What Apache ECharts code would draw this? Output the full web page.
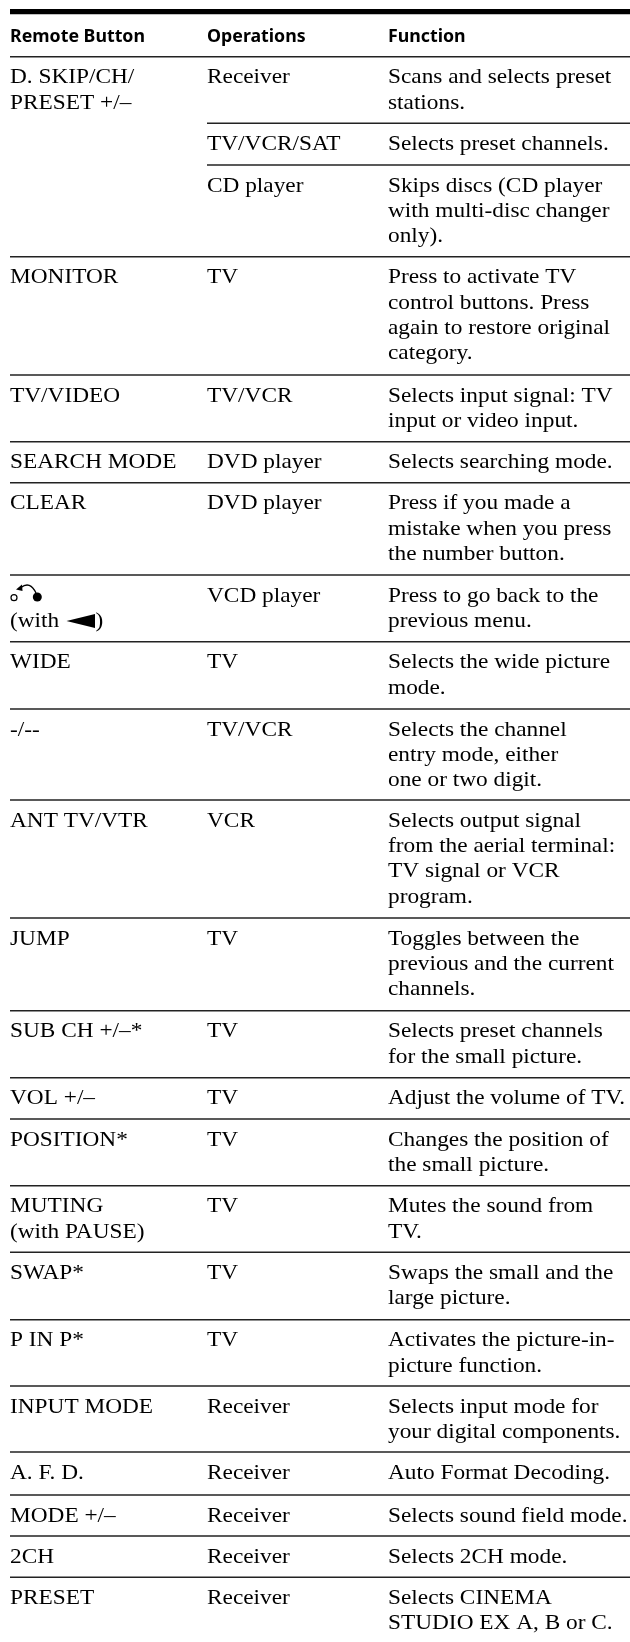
<!DOCTYPE html>
<html>
<head>
<meta charset="utf-8">
<style>html,body{margin:0;padding:0;background:#fff}#main{width:630px;height:1642px}</style>
<script src="https://cdn.jsdelivr.net/npm/echarts@6/dist/echarts.min.js"></script>
</head>
<body>
<div id="main"></div>
<script>
// table text, one entry per row, \n = line break
var headers = ['Remote Button', 'Operations', 'Function'];
var rowButton = ['D. SKIP/CH/\nPRESET +/\u2013', '', '', 'MONITOR', 'TV/VIDEO', 'SEARCH MODE', 'CLEAR', '\n(with', 'WIDE', '-/--',
    'ANT TV/VTR', 'JUMP', 'SUB CH +/\u2013*', 'VOL +/\u2013', 'POSITION*', 'MUTING\n(with PAUSE)', 'SWAP*', 'P IN P*',
    'INPUT MODE', 'A. F. D.', 'MODE +/\u2013', '2CH', 'PRESET'];
var rowOperation = ['Receiver', 'TV/VCR/SAT', 'CD player', 'TV', 'TV/VCR', 'DVD player', 'DVD player', 'VCD player', 'TV', 'TV/VCR',
    'VCR', 'TV', 'TV', 'TV', 'TV', 'TV', 'TV', 'TV',
    'Receiver', 'Receiver', 'Receiver', 'Receiver', 'Receiver'];
var rowFunction = [
    'Scans and selects preset\nstations.',
    'Selects preset channels.',
    'Skips discs (CD player\nwith multi-disc changer\nonly).',
    'Press to activate TV\ncontrol buttons. Press\nagain to restore original\ncategory.',
    'Selects input signal: TV\ninput or video input.',
    'Selects searching mode.',
    'Press if you made a\nmistake when you press\nthe number button.',
    'Press to go back to the\nprevious menu.',
    'Selects the wide picture\nmode.',
    'Selects the channel\nentry mode, either\none or two digit.',
    'Selects output signal\nfrom the aerial terminal:\nTV signal or VCR\nprogram.',
    'Toggles between the\nprevious and the current\nchannels.',
    'Selects preset channels\nfor the small picture.',
    'Adjust the volume of TV.',
    'Changes the position of\nthe small picture.',
    'Mutes the sound from\nTV.',
    'Swaps the small and the\nlarge picture.',
    'Activates the picture-in-\npicture function.',
    'Selects input mode for\nyour digital components.',
    'Auto Format Decoding.',
    'Selects sound field mode.',
    'Selects 2CH mode.',
    'Selects CINEMA\nSTUDIO EX A, B or C.'
];
// y of the rule above each row; last one closes the table
var rowTop = [56.7, 123.3, 165, 256.7, 375, 441.7, 482.7, 575, 641.7, 709, 800, 918, 1010.7, 1077.7, 1119, 1185.7, 1252.3, 1319.7, 1386, 1452, 1495, 1536, 1577.3];
var columnX = [10, 207, 388];

var SERIF = '21px "Liberation Serif"';
var HEAD = 'bold 18.5px "Noto Sans"';
var SERIF_SCALE = 1.11;
var HEAD_SCALE = 0.96;
var LINE = 25.3;
var INK = '#000';

var myChart = echarts.init(document.getElementById('main'));

function textLines(api, str, col, baseline, font) {
    var out = [];
    str.split('\n').forEach(function (t, i) {
        if (!t) return;
        var p = api.coord([columnX[col], baseline + i * LINE]);
        out.push({
            type: 'text',
            x: p[0], y: p[1],
            scaleX: font === SERIF ? SERIF_SCALE : HEAD_SCALE,
            style: { text: t, font: font, fill: INK, textAlign: 'left', textVerticalAlign: 'bottom' },
            silent: true
        });
    });
    return out;
}

function rule(api, x0, y, w, color) {
    var a = api.coord([x0, y]), b = api.coord([630, y]);
    return { type: 'line', shape: { x1: a[0], y1: a[1], x2: b[0], y2: b[1] }, style: { stroke: color || '#222', lineWidth: w }, silent: true };
}

// return arrow over "(with <)"
function backIcon(api, y) {
    var c = function (dx, dy) { return api.coord([dx, y + dy]); };
    var kids = [];
    var a = c(14, 22.7), b = c(37.3, 22);
    kids.push({ type: 'circle', shape: { cx: a[0], cy: a[1], r: 3 }, style: { fill: '#fff', stroke: INK, lineWidth: 1.2 } });
    kids.push({ type: 'circle', shape: { cx: b[0], cy: b[1], r: 4.5 }, style: { fill: INK } });
    var s = c(21, 12.5), m = c(30, 5.5), e = c(36, 18);
    kids.push({ type: 'bezierCurve', shape: { x1: s[0], y1: s[1], x2: e[0], y2: e[1], cpx1: m[0], cpy1: m[1] },
        style: { stroke: INK, lineWidth: 1.4, fill: null } });
    kids.push({ type: 'polygon', shape: { points: [c(16, 14.5), c(22, 9.5), c(22.5, 16)] }, style: { fill: INK } });
    kids.push({ type: 'polygon', shape: { points: [c(66.5, 46), c(95, 39), c(95, 53)] }, style: { fill: INK } });
    var t = c(95.5, 31.7 + LINE);
    kids.push({ type: 'text', x: t[0], y: t[1], scaleX: SERIF_SCALE, style: { text: ')', font: SERIF, fill: INK, textVerticalAlign: 'bottom' } });
    return kids;
}

var option = {
    animation: false,
    grid: { left: 0, right: 0, top: 0, bottom: 0 },
    xAxis: { type: 'value', min: 0, max: 630, show: false },
    yAxis: { type: 'value', min: 0, max: 1642, inverse: true, show: false },
    series: [{
        // header + top bar
        type: 'custom',
        coordinateSystem: 'cartesian2d',
        clip: false,
        data: [[0, 0]],
        renderItem: function (params, api) {
            var kids = [rule(api, 10, 11.65, 5.3, '#000')];
            headers.forEach(function (h, c) {
                kids = kids.concat(textLines(api, h, c, 46.7, HEAD));
            });
            return { type: 'group', children: kids };
        }
    }, {
        type: 'custom',
        coordinateSystem: 'cartesian2d',
        clip: false,
        data: rowTop.map(function (y, i) { return [i, y]; }),
        renderItem: function (params, api) {
            var i = api.value(0), y = api.value(1);
            // sub rows of D. SKIP only get a rule over the two right columns
            var isSub = i < rowButton.length && rowButton[i] === '';
            var kids = [rule(api, isSub ? columnX[1] : columnX[0], y, 1.6)];
            if (i < rowButton.length) {
                var base = y + 31.7;
                kids = kids.concat(textLines(api, rowButton[i], 0, base, SERIF),
                    textLines(api, rowOperation[i], 1, base, SERIF),
                    textLines(api, rowFunction[i], 2, base, SERIF));
                if (rowButton[i].charAt(0) === '\n') kids = kids.concat(backIcon(api, y));
            }
            return { type: 'group', children: kids };
        }
    }]
};

myChart.setOption(option);
</script>
</body>
</html>
